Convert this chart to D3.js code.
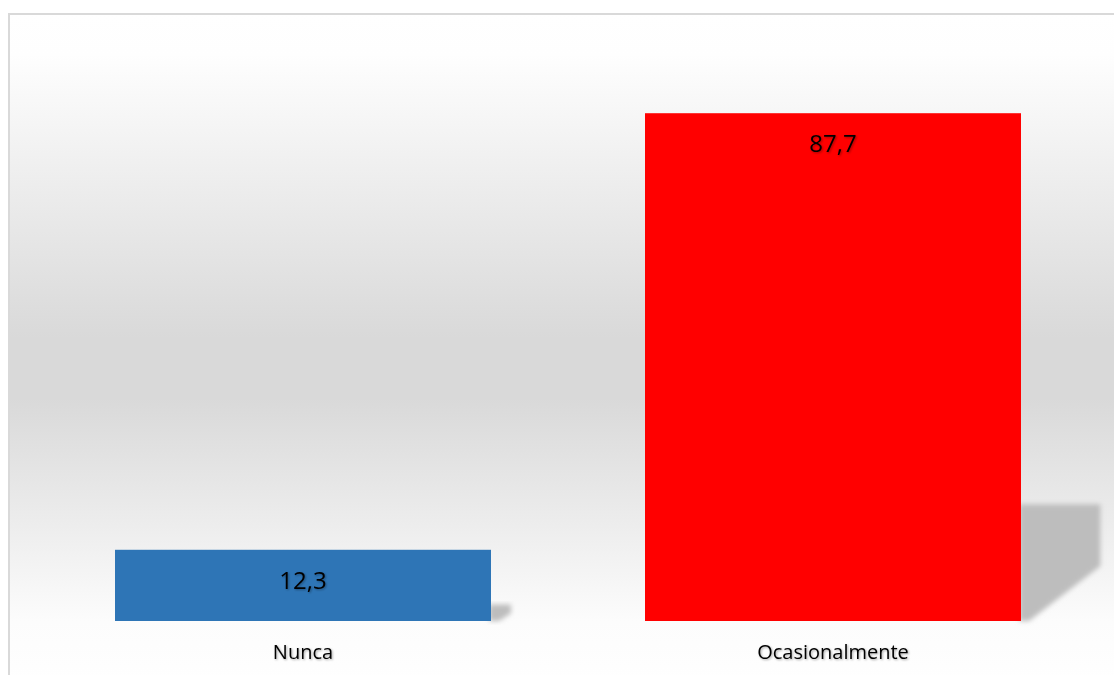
<!DOCTYPE html>
<html>
<head>
<meta charset="utf-8">
<script src="https://cdnjs.cloudflare.com/ajax/libs/d3/7.8.5/d3.min.js"></script>
<style>
  body { margin: 0; background: #fff; }
  text { font-family: "Open Sans", sans-serif; }
</style>
</head>
<body>
<div id="chart"></div>
<script>
var width = 1114,
    height = 675;

var categories = ["Nunca", "Ocasionalmente"];
var values = [12.3, 87.7];
var valueLabels = ["12,3", "87,7"];
var colors = ["#2e75b6", "#ff0000"];

var svg = d3.select("#chart").append("svg")
    .attr("width", width)
    .attr("height", height);

var defs = svg.append("defs");

var grad = defs.append("linearGradient")
    .attr("id", "bg")
    .attr("x1", 0).attr("y1", 0)
    .attr("x2", 0).attr("y2", 1);
grad.append("stop").attr("offset", 0).attr("stop-color", "#ffffff");
grad.append("stop").attr("offset", 0.06).attr("stop-color", "#fefefe");
grad.append("stop").attr("offset", 0.48).attr("stop-color", "#d9d9d9");
grad.append("stop").attr("offset", 0.57).attr("stop-color", "#d9d9d9");
grad.append("stop").attr("offset", 0.9).attr("stop-color", "#fcfcfc");
grad.append("stop").attr("offset", 1).attr("stop-color", "#ffffff");

defs.append("filter").attr("id", "blur")
    .attr("x", "-20%").attr("y", "-20%").attr("width", "140%").attr("height", "140%")
  .append("feGaussianBlur").attr("stdDeviation", 2.5);

var txtShadow = defs.append("filter").attr("id", "tshadow");
txtShadow.append("feDropShadow")
    .attr("dx", 1).attr("dy", 1).attr("stdDeviation", 1)
    .attr("flood-color", "#000").attr("flood-opacity", 0.35);

// chart area background + border
svg.append("rect")
    .attr("x", 9).attr("y", 14)
    .attr("width", width).attr("height", height)
    .attr("fill", "url(#bg)")
    .attr("stroke", "#d9d9d9")
    .attr("stroke-width", 2);

var x = d3.scaleBand()
    .domain(categories)
    .range([38, 1098])
    .paddingInner(0.2906)
    .paddingOuter(0.1453);

var y = d3.scaleLinear()
    .domain([0, 100])
    .range([621, 42]);

// perspective shadows behind bars
svg.selectAll(".shadow")
    .data(values)
  .enter().append("path")
    .attr("class", "shadow")
    .attr("fill", "#bdbdbd")
    .attr("filter", "url(#blur)")
    .attr("d", function(d, i) {
      var x1 = x(categories[i]) + x.bandwidth(),
          h = y(0) - y(d),
          sh = h * 0.23,
          dx = Math.max(sh * 0.68, 20),
          base = y(0);
      return "M" + (x1 - 2) + "," + (base - sh) +
             "L" + (x1 + dx) + "," + (base - sh) +
             "L" + (x1 + dx) + "," + (base - sh * 0.47) +
             "L" + (x1 + 8) + "," + base +
             "L" + (x1 - 2) + "," + base + "Z";
    });

svg.selectAll(".bar")
    .data(values)
  .enter().append("rect")
    .attr("class", "bar")
    .attr("x", function(d, i) { return x(categories[i]); })
    .attr("y", function(d) { return y(d); })
    .attr("width", x.bandwidth())
    .attr("height", function(d) { return y(0) - y(d); })
    .attr("fill", function(d, i) { return colors[i]; });

svg.selectAll(".vlabel")
    .data(values)
  .enter().append("text")
    .attr("class", "vlabel")
    .attr("x", function(d, i) { return x(categories[i]) + x.bandwidth() / 2; })
    .attr("y", function(d) { return y(d) + 39; })
    .attr("text-anchor", "middle")
    .attr("font-size", "24px")
    .attr("fill", "#000")
    .attr("filter", "url(#tshadow)")
    .text(function(d, i) { return valueLabels[i]; });

var xAxis = svg.append("g")
    .attr("transform", "translate(0," + y(0) + ")")
    .call(d3.axisBottom(x).tickSize(0).tickPadding(24));
xAxis.select(".domain").remove();
xAxis.selectAll("text")
    .attr("font-size", "20px")
    .attr("font-family", "Open Sans, sans-serif")
    .attr("fill", "#000")
    .attr("filter", "url(#tshadow)");
</script>
</body>
</html>
